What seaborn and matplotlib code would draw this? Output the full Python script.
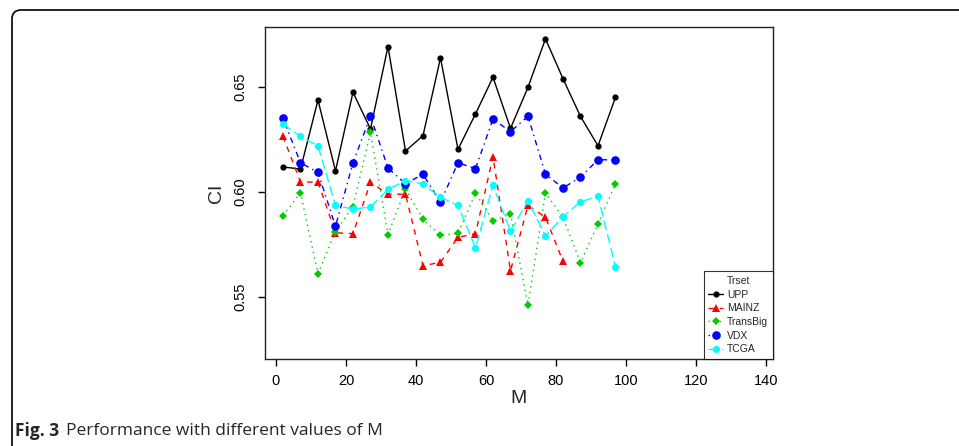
import numpy as np
import pandas as pd
import seaborn as sns
import matplotlib
matplotlib.use("Agg")
import matplotlib.pyplot as plt
from matplotlib.patches import FancyBboxPatch
from matplotlib.transforms import IdentityTransform

# values
m_values = [2, 7, 12, 17, 22, 27, 32, 37, 42, 47, 52, 57, 62, 67, 72, 77, 82, 87, 92, 97]
upp = [0.6118, 0.6108, 0.6437, 0.6099, 0.6474, 0.6299, 0.6692, 0.6194, 0.6267, 0.6638,
       0.6202, 0.6371, 0.6546, 0.6302, 0.6498, 0.6729, 0.6539, 0.6359, 0.6219, 0.6450]
mainz = [0.6264, 0.6046, 0.6046, 0.5804, 0.5800, 0.6045, 0.5988, 0.5988, 0.5647, 0.5663,
         0.5782, 0.5800, 0.6167, 0.5623, 0.5935, 0.5878, 0.5668]
transbig = [0.5886, 0.5994, 0.5609, 0.5810, 0.5929, 0.6283, 0.5795, 0.6014, 0.5868, 0.5792,
            0.5801, 0.5994, 0.5860, 0.5895, 0.5459, 0.5994, 0.5878, 0.5662, 0.5847, 0.6037]
vdx = [0.6350, 0.6138, 0.6092, 0.5835, 0.6138, 0.6360, 0.6113, 0.6038, 0.6083, 0.5949,
       0.6138, 0.6110, 0.6347, 0.6286, 0.6360, 0.6083, 0.6018, 0.6069, 0.6153, 0.6151]
tcga = [0.6323, 0.6264, 0.6218, 0.5935, 0.5917, 0.5927, 0.6011, 0.6052, 0.6037, 0.5973,
        0.5935, 0.5733, 0.6031, 0.5811, 0.5957, 0.5789, 0.5881, 0.5951, 0.5979, 0.5641]

series = {"UPP": upp, "MAINZ": mainz, "TransBig": transbig, "VDX": vdx, "TCGA": tcga}
colors = {"UPP": "black", "MAINZ": "red", "TransBig": "#00cc00", "VDX": "blue", "TCGA": "cyan"}
markers = {"UPP": "o", "MAINZ": "^", "TransBig": "D", "VDX": "o", "TCGA": "o"}
msizes = {"UPP": 4.5, "MAINZ": 6, "TransBig": 3.8, "VDX": 6.2, "TCGA": 5.2}
dashes = {"UPP": "-", "MAINZ": (0, (4, 4)), "TransBig": (0, (1, 3)),
          "VDX": (0, (1, 3, 4, 3)), "TCGA": (0, (7, 3))}

rows = []
for name, vals in series.items():
    for m, ci in zip(m_values, vals):
        rows.append({"M": m, "CI": ci, "Trset": name})
df = pd.DataFrame(rows)

sns.set_style("ticks")
plt.rcParams["font.family"] = ["Liberation Sans", "DejaVu Sans"]

fig = plt.figure(figsize=(9.59, 4.46), dpi=100)
ax = fig.add_axes([265 / 959, 87 / 446, 508 / 959, 332.3 / 446])

for name in series:
    sub = df[df["Trset"] == name]
    sns.lineplot(data=sub, x="M", y="CI", ax=ax, color=colors[name], marker=markers[name],
                 markersize=msizes[name], markeredgewidth=0, linewidth=1.0,
                 linestyle=dashes[name], label=name, estimator=None, sort=False)

ax.set_xlim(-3.14, 142)
ax.set_ylim(0.5202, 0.6787)
ax.set_xticks(range(0, 141, 20))
ax.set_yticks([0.55, 0.60, 0.65])
ax.set_yticklabels(["0.55", "0.60", "0.65"], rotation=90, va="center")
ax.tick_params(axis="both", direction="out", length=5, width=1, colors="black", labelsize=10.5)
ax.tick_params(axis="x", pad=6)
ax.tick_params(axis="y", pad=8)
for sp in ax.spines.values():
    sp.set_visible(True)
    sp.set_color("#222222")
    sp.set_linewidth(1)
ax.set_xlabel("M", fontsize=14, labelpad=1)
ax.set_ylabel("CI", fontsize=14, labelpad=6)

leg = ax.legend(title="Trset", loc="lower right", fontsize=7.5, title_fontsize=7.5,
                frameon=True, fancybox=False, borderaxespad=0, handlelength=1.4,
                handletextpad=0.4, borderpad=0.45, labelspacing=0.35)
leg.get_frame().set_edgecolor("black")
leg.get_frame().set_linewidth(0.8)

# outer frame with rounded top-left corner
frame = FancyBboxPatch((12, -40), 1100, 436 + 40, boxstyle="round,pad=0,rounding_size=9",
                       transform=IdentityTransform(), fill=False, edgecolor="black",
                       linewidth=1.2, clip_on=False)
fig.patches.append(frame)

fig.text(15 / 959, 15 / 446, "Fig. 3", fontsize=12.5, fontweight="bold",
         family=["Open Sans", "DejaVu Sans"], va="center")
fig.text(66 / 959, 15 / 446, "Performance with different values of M", fontsize=12.5,
         family=["Open Sans", "DejaVu Sans"], va="center")

fig.savefig("out.png", dpi=100)
